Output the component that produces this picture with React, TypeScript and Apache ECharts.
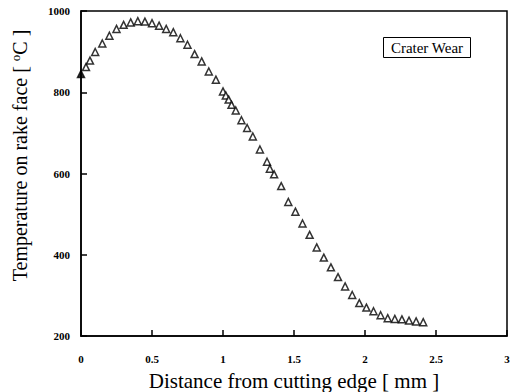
import React, { useEffect, useRef } from "react";
import * as echarts from "echarts";

const distance = [0, 0.035, 0.063, 0.1, 0.15, 0.2, 0.25, 0.3, 0.35, 0.4, 0.45, 0.5, 0.55, 0.6, 0.65, 0.7, 0.75, 0.8, 0.85, 0.9, 0.95, 1.0, 1.02, 1.04, 1.06, 1.09, 1.13, 1.17, 1.21, 1.26, 1.31, 1.33, 1.36, 1.41, 1.46, 1.51, 1.56, 1.61, 1.66, 1.71, 1.76, 1.81, 1.86, 1.91, 1.96, 2.01, 2.06, 2.11, 2.16, 2.21, 2.26, 2.31, 2.36, 2.41];
const temperature = [845, 862, 878, 899, 920, 939, 956, 966, 972, 975, 974, 970, 964, 956, 948, 933, 917, 894, 876, 851, 831, 802, 792, 782, 769, 755, 731, 712, 691, 659, 629, 612, 598, 569, 530, 506, 477, 449, 418, 393, 369, 345, 322, 301, 281, 270, 261, 251, 244, 242, 241, 238, 236, 234];
const legendLabel = "Crater Wear";
const xTitle = "Distance from cutting edge [ mm ]";

const FONT = "Liberation Serif";

export default function App() {
  const ref = useRef<HTMLDivElement>(null);
  useEffect(() => {
    if (!ref.current) return;
    const chart = echarts.init(ref.current, null, { renderer: "svg" });
    const pts = distance.map((d, i) => [d, temperature[i]]);
    chart.setOption({
      animation: false,
      backgroundColor: "#fff",
      grid: { left: 81, right: 12, top: 11, bottom: 56, outerBoundsMode: "none", containLabel: false, show: true, borderColor: "#000", borderWidth: 1.5 },
      xAxis: {
        type: "value",
        min: 0,
        max: 3,
        interval: 0.5,
        name: xTitle,
        nameLocation: "middle",
        nameGap: 34,
        nameTextStyle: { fontFamily: FONT, fontSize: 21, color: "#000" },
        axisLine: { show: true, lineStyle: { color: "#000", width: 1.5 } },
        axisTick: { show: true, inside: true, length: 6, lineStyle: { color: "#000", width: 1.5 } },
        axisLabel: { fontFamily: FONT, fontSize: 11, fontWeight: "bold", color: "#000", margin: 17, showMaxLabel: true, showMinLabel: true, formatter: (v: number) => String(v) },
        splitLine: { show: false },
      },
      yAxis: {
        type: "value",
        min: 200,
        max: 1000,
        interval: 200,
        name: "Temperature on rake face [ {sup|o}C ]",
        nameLocation: "middle",
        nameGap: 50,
        nameTextStyle: {
          fontFamily: FONT, fontSize: 20, color: "#000",
          padding: [0, 0, 0, 36],
          rich: { sup: { fontFamily: FONT, fontSize: 13, color: "#000", verticalAlign: "top", padding: [0, 0, 9, 0] } },
        },
        axisLine: { show: true, lineStyle: { color: "#000", width: 1.5 } },
        axisTick: { show: true, inside: true, length: 6, lineStyle: { color: "#000", width: 1.5 } },
        axisLabel: { fontFamily: FONT, fontSize: 11, fontWeight: "bold", color: "#000", margin: 11, formatter: (v: number) => String(v) },
        splitLine: { show: false },
      },
      series: [
        {
          name: legendLabel,
          type: "scatter",
          data: pts.map((p, i) => ({
            value: p,
            itemStyle: i === 0 ? { color: "#000" } : undefined,
          })),
          symbol: "triangle",
          symbolSize: 7,
          itemStyle: { color: "#fff", borderColor: "#000", borderWidth: 1.5 },
        },
      ],
      graphic: [
        {
          type: "group",
          left: 383,
          top: 37,
          children: [
            { type: "rect", shape: { x: 0, y: 0, width: 87, height: 20 }, style: { fill: "#fff", stroke: "#000", lineWidth: 1 } },
            { type: "text", x: 43.5, y: 10.5, style: { text: legendLabel, fontFamily: FONT, fontSize: 15, fill: "#000", align: "center", verticalAlign: "middle" } },
          ],
        },
      ],
    });
    return () => chart.dispose();
  }, []);
  return <div ref={ref} style={{ position: "absolute", left: 0, top: 0, width: 519, height: 392 }} />;
}
